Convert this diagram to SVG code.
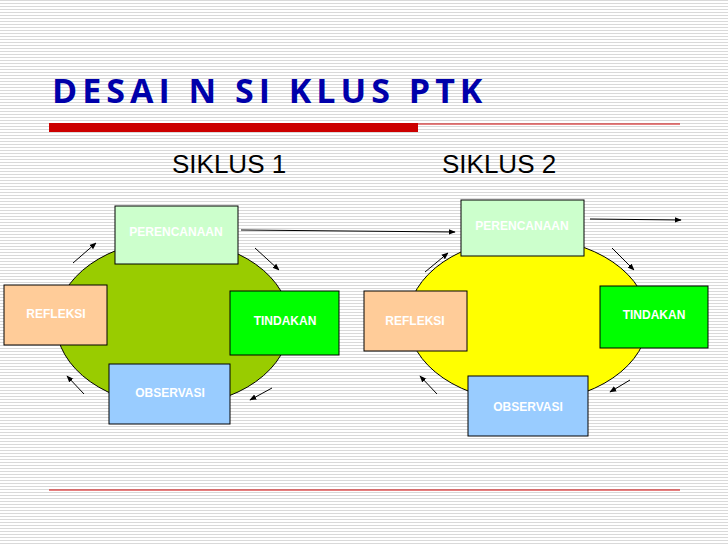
<svg xmlns="http://www.w3.org/2000/svg" width="728" height="546" viewBox="0 0 728 546">
<defs>
<pattern id="st" width="4" height="3" patternUnits="userSpaceOnUse"><rect width="4" height="3" fill="#fff"/><rect width="4" height="1" fill="#d9d9d9"/></pattern>
<marker id="ah" viewBox="0 0 10 10" refX="9" refY="5" markerWidth="7" markerHeight="7" orient="auto"><path d="M0,1 L10,5 L0,9 z" fill="#000"/></marker>
</defs>
<style>
.b{stroke:#000;stroke-width:1}
.t{font-family:"Liberation Sans",Arial,sans-serif;font-weight:bold;font-size:12px;fill:#fff;text-anchor:middle}
.s{font-family:"Liberation Sans",Arial,sans-serif;font-size:26px;fill:#000}
.c line{stroke:#000;stroke-width:1;marker-end:url(#ah)}
</style>
<rect width="728" height="546" fill="url(#st)"/>
<text x="52" y="103" font-family="'Open Sans','Liberation Sans',sans-serif" font-weight="bold" font-size="34" fill="#0000aa" letter-spacing="5">DESAI N  SI KLUS  PTK</text>
<rect x="49" y="123" width="369" height="9" fill="#cc0000"/>
<line x1="418" y1="124" x2="680" y2="124" stroke="#cc0000" stroke-width="1"/>
<line x1="49" y1="490" x2="680" y2="490" stroke="#cc0000" stroke-width="1"/>
<text class="s" x="172" y="173">SIKLUS 1</text>
<text class="s" x="442" y="173">SIKLUS 2</text>
<ellipse cx="173" cy="323" rx="117" ry="83" fill="#99cc00" class="b"/>
<ellipse cx="528" cy="320" rx="120" ry="82" fill="#ffff00" class="b"/>
<g id="p1"><rect x="115" y="206" width="123" height="58" fill="#ccffcc" class="b"/><text class="t" x="176" y="236" font-size="11">PERENCANAAN</text></g>
<g id="r1"><rect x="4" y="285" width="103" height="60" fill="#ffcc99" class="b"/><text class="t" x="56" y="318">REFLEKSI</text></g>
<g id="t1"><rect x="230" y="291" width="109" height="64" fill="#00ff00" class="b"/><text class="t" x="285" y="325">TINDAKAN</text></g>
<g id="o1"><rect x="109" y="364" width="121" height="60" fill="#99ccff" class="b"/><text class="t" x="170" y="397">OBSERVASI</text></g>
<g id="p2"><rect x="461" y="200" width="123" height="56" fill="#ccffcc" class="b"/><text class="t" x="522" y="230" font-size="11">PERENCANAAN</text></g>
<g id="r2"><rect x="364" y="291" width="103" height="60" fill="#ffcc99" class="b"/><text class="t" x="415" y="325">REFLEKSI</text></g>
<g id="t2"><rect x="600" y="286" width="108" height="62" fill="#00ff00" class="b"/><text class="t" x="654" y="319">TINDAKAN</text></g>
<g id="o2"><rect x="468" y="376" width="120" height="60" fill="#99ccff" class="b"/><text class="t" x="528" y="411">OBSERVASI</text></g>
<g class="c">
<line x1="73" y1="263" x2="96" y2="243"/>
<line x1="255" y1="248" x2="279" y2="270"/>
<line x1="272" y1="388" x2="250" y2="400"/>
<line x1="84" y1="394" x2="67" y2="376"/>
<line x1="241" y1="230" x2="455" y2="232"/>
<line x1="425" y1="272" x2="448" y2="253"/>
<line x1="612" y1="248" x2="634" y2="270"/>
<line x1="630" y1="380" x2="610" y2="392"/>
<line x1="437" y1="394" x2="420" y2="376"/>
<line x1="590" y1="219" x2="681" y2="220"/>
</g>
</svg>
